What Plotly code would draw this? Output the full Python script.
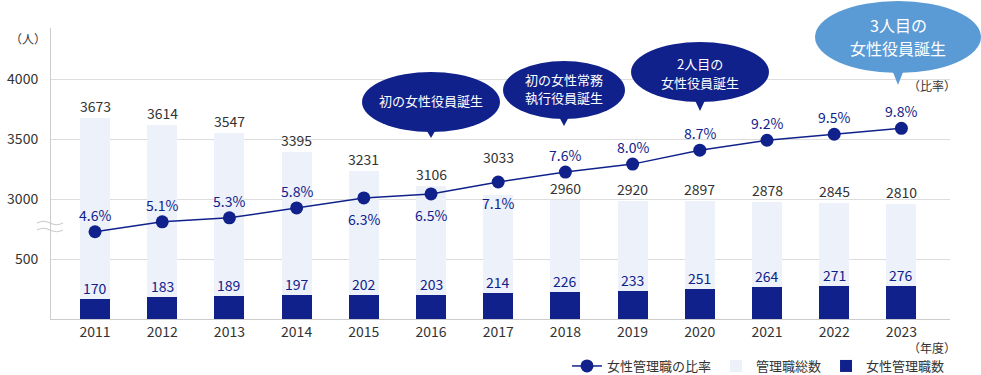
import plotly.graph_objects as go

# ---------------- data ----------------
years = [2011, 2012, 2013, 2014, 2015, 2016, 2017, 2018, 2019, 2020, 2021, 2022, 2023]
total_managers = [3673, 3614, 3547, 3395, 3231, 3106, 3033, 2960, 2920, 2897, 2878, 2845, 2810]
female_managers = [170, 183, 189, 197, 202, 203, 214, 226, 233, 251, 264, 271, 276]
female_ratio = [4.6, 5.1, 5.3, 5.8, 6.3, 6.5, 7.1, 7.6, 8.0, 8.7, 9.2, 9.5, 9.8]
y_tick_values = [500, 3000, 3500, 4000]
ratio_label_below_years = [2015, 2016, 2017]
total_label_raised_years = [2017]

series_names = ["女性管理職の比率", "管理職総数", "女性管理職数"]

# ---------------- style ----------------
NAVY = "#10218b"
LIGHT = "#edf1fa"
BUBBLE_LIGHT = "#5b9bd5"
GRID = "#dddddd"
AXIS = "#cccccc"
TEXT = "#333333"
FONT = "Noto Sans CJK JP"

W, H = 981, 375
ML, MR, MT, MB = 51, 31, 28, 56
PW = W - ML - MR
PH = H - MT - MB


# broken axis: 0-500 -> 0..1 ; 500-3000 compressed -> 1..2 ; 3000+ -> 2+ (500 per unit)
def brk(v):
    if v <= 500:
        return v / 500.0
    if v <= 3000:
        return 1.0 + (v - 500) / 2500.0
    return 2.0 + (v - 3000) / 500.0


def px_x(px):
    return (px - ML) / PW


def px_y(py):
    return (MT + PH - py) / PH


fig = go.Figure()

fig.add_trace(go.Bar(
    x=years, y=[brk(v) for v in total_managers], name=series_names[1],
    marker=dict(color=LIGHT, line=dict(width=0)), width=0.446,
    legendrank=2, hoverinfo="skip"))
fig.add_trace(go.Bar(
    x=years, y=[brk(v) for v in female_managers], name=series_names[2],
    marker=dict(color=NAVY, line=dict(width=0)), width=0.446,
    legendrank=3, hoverinfo="skip"))
fig.add_trace(go.Scatter(
    x=years, y=female_ratio, name=series_names[0], yaxis="y2",
    mode="lines+markers", line=dict(color=NAVY, width=1.5),
    marker=dict(color=NAVY, size=13), legendrank=1, hoverinfo="skip"))

annotations = []
for yr, t in zip(years, total_managers):
    annotations.append(dict(x=yr, y=brk(t), xref="x", yref="y", text=str(t),
                            showarrow=False, xanchor="center", yanchor="middle",
                            yshift=38 if yr in total_label_raised_years else 12,
                            font=dict(size=14, color=TEXT, family=FONT)))
for yr, f in zip(years, female_managers):
    annotations.append(dict(x=yr, y=brk(f), xref="x", yref="y", text=str(f),
                            showarrow=False, xanchor="center", yanchor="middle", yshift=11,
                            font=dict(size=14, color=NAVY, family=FONT)))
for yr, r in zip(years, female_ratio):
    below = yr in ratio_label_below_years
    annotations.append(dict(x=yr, y=r, xref="x", yref="y2", text=f"{r:.1f}%",
                            showarrow=False, xanchor="center", yanchor="middle",
                            yshift=-21 if below else 17,
                            font=dict(size=14, color=NAVY, family=FONT)))

# unit labels
annotations.append(dict(x=px_x(28), y=px_y(38), xref="paper", yref="paper", text="（人）",
                        showarrow=False, xanchor="center", yanchor="middle",
                        font=dict(size=12, color=TEXT, family=FONT)))
annotations.append(dict(x=px_x(932), y=px_y(86), xref="paper", yref="paper", text="（比率）",
                        showarrow=False, xanchor="center", yanchor="middle",
                        font=dict(size=12, color=TEXT, family=FONT)))
annotations.append(dict(x=px_x(932), y=px_y(347), xref="paper", yref="paper", text="（年度）",
                        showarrow=False, xanchor="center", yanchor="middle",
                        font=dict(size=12, color=TEXT, family=FONT)))

shapes = []

# speech bubbles: (cx, cy, rx, ry, tip_x, tip_y, color, [(line text, line y)], font size)
bubbles = [
    (431, 102, 69, 30, 431, 138, NAVY, [("初の女性役員誕生", 100)], 13),
    (564, 90, 61, 29, 564, 126, NAVY, [("初の女性常務", 79), ("執行役員誕生", 97.5)], 13),
    (700, 72, 69, 30, 700, 111, NAVY, [("2人目の", 63.5), ("女性役員誕生", 82)], 13),
    (898, 37, 83, 36, 898, 85, BUBBLE_LIGHT, [("3人目の", 25), ("女性役員誕生", 48)], 16),
]
for cx, cy, rx, ry, tx, ty, col, lines, fs in bubbles:
    shapes.append(dict(type="circle", xref="paper", yref="paper",
                       x0=px_x(cx - rx), x1=px_x(cx + rx),
                       y0=px_y(cy + ry), y1=px_y(cy - ry),
                       fillcolor=col, line=dict(width=0)))
    by = cy + ry - 6
    path = (f"M {px_x(tx - 7)},{px_y(by)} L {px_x(tx + 7)},{px_y(by)} "
            f"L {px_x(tx)},{px_y(ty)} Z")
    shapes.append(dict(type="path", xref="paper", yref="paper", path=path,
                       fillcolor=col, line=dict(width=0)))
    for txt, ly in lines:
        annotations.append(dict(x=px_x(cx), y=px_y(ly), xref="paper", yref="paper",
                                text=txt, showarrow=False, xanchor="center", yanchor="middle",
                                borderpad=0,
                                font=dict(size=fs, color="white", family=FONT)))

# axis break marks
for wy in (223, 230):
    p = (f"M {px_x(37)},{px_y(wy)} Q {px_x(43.5)},{px_y(wy - 3.5)} {px_x(50)},{px_y(wy)} "
         f"T {px_x(63)},{px_y(wy)}")
    shapes.append(dict(type="path", xref="paper", yref="paper", path=p,
                       line=dict(color=AXIS, width=1.2)))

fig.update_layout(
    width=W, height=H, autosize=False,
    margin=dict(l=ML, r=MR, t=MT, b=MB, pad=0, autoexpand=False),
    paper_bgcolor="white", plot_bgcolor="white",
    font=dict(family=FONT, color=TEXT, size=14),
    barmode="overlay", bargap=0,
    showlegend=True,
    legend=dict(orientation="h", x=1.0, xanchor="right", y=px_y(366), yanchor="middle",
                font=dict(size=13, color=TEXT, family=FONT), bgcolor="rgba(0,0,0,0)",
                itemwidth=30, traceorder="normal"),
    xaxis=dict(range=[2010.345, 2023.723], tickvals=years, ticktext=[str(y) for y in years],
               showgrid=False, showline=True, linecolor=AXIS, linewidth=1, ticks="",
               zeroline=False, tickfont=dict(size=14, color=TEXT)),
    yaxis=dict(range=[0, PH / 60.0], tickvals=[brk(v) for v in y_tick_values],
               ticktext=[str(v) for v in y_tick_values], showgrid=True, gridcolor=GRID,
               gridwidth=1, showline=True, linecolor=AXIS, linewidth=1, ticks="",
               zeroline=False, ticklabelstandoff=9, tickfont=dict(size=14, color=TEXT)),
    yaxis2=dict(overlaying="y", range=[0.216, 14.84], visible=False),
    annotations=annotations, shapes=shapes,
)

fig.write_html(
    "out.html",
    config={"displayModeBar": False, "staticPlot": True},
    post_script="document.body.style.margin='0';document.body.style.overflow='hidden';",
)
